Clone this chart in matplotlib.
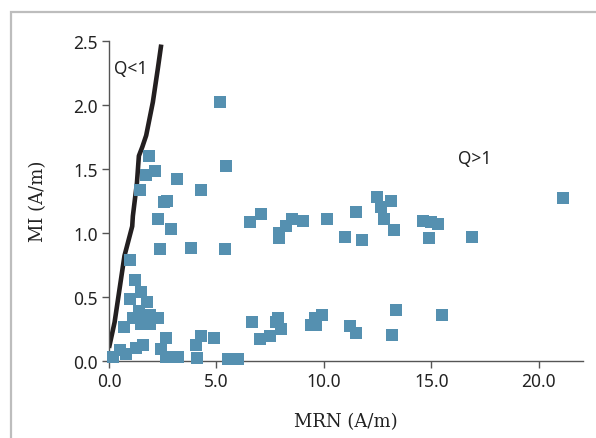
import numpy as np
import matplotlib
matplotlib.use("Agg")
from matplotlib import pyplot as plt
from matplotlib.patches import Rectangle

# puntos medidos (MRN, MI)
mrn = [5.18, 1.84, 5.46, 1.70, 2.12, 3.18, 1.45, 4.29, 2.58, 2.71,
       2.29, 2.90, 2.38, 3.80, 5.38, 0.99, 6.58, 7.09, 7.89, 7.89,
       8.25, 8.49, 9.03, 10.12, 10.97, 11.47, 11.75, 12.49, 12.65, 13.14,
       12.79, 13.24, 14.63, 14.96, 15.29, 14.87, 16.87, 21.11,
       1.22, 1.50, 0.99, 1.78, 1.39, 1.11, 1.92, 2.27, 1.55, 1.89,
       1.50, 0.72, 2.63, 1.27, 1.57, 2.43, 0.52, 0.80, 0.18, 2.66,
       3.20, 4.03, 4.26, 4.88, 4.11, 5.53, 6.00,
       6.67, 7.01, 7.48, 7.75, 7.85, 7.98, 9.42, 9.65, 9.57, 9.93,
       11.20, 11.51, 13.16, 13.33, 15.47]
mi = [2.02, 1.60, 1.52, 1.45, 1.48, 1.42, 1.33, 1.33, 1.24, 1.25,
      1.11, 1.03, 0.87, 0.88, 0.87, 0.79, 1.08, 1.15, 1.00, 0.96,
      1.05, 1.11, 1.09, 1.11, 0.97, 1.16, 0.94, 1.28, 1.20, 1.25,
      1.11, 1.02, 1.09, 1.08, 1.07, 0.96, 0.97, 1.27,
      0.63, 0.54, 0.48, 0.46, 0.39, 0.33, 0.36, 0.33, 0.31, 0.29,
      0.29, 0.26, 0.18, 0.10, 0.12, 0.09, 0.08, 0.05, 0.03, 0.03,
      0.03, 0.12, 0.19, 0.18, 0.02, 0.01, 0.01,
      0.30, 0.17, 0.19, 0.30, 0.33, 0.25, 0.28, 0.28, 0.33, 0.36,
      0.27, 0.22, 0.20, 0.40, 0.36]

# curva Q = 1
curva_x = [0.0, 0.26, 0.72, 1.08, 1.11, 1.30, 1.39, 1.55, 1.73, 2.04, 2.27, 2.43]
curva_y = [0.10, 0.30, 0.82, 1.05, 1.13, 1.39, 1.60, 1.67, 1.76, 2.02, 2.28, 2.47]

xticks = [0, 5, 10, 15, 20]
yticks = [0.0, 0.5, 1.0, 1.5, 2.0, 2.5]

plt.rcParams['font.family'] = 'Noto Sans'

fig = plt.figure(figsize=(5.96, 4.39), dpi=100)
ax = fig.add_axes([109/596, 1-361.7/439, (583-109)/596, 320/439])

# marco gris alrededor
fig.patches.append(Rectangle((11/596, -0.1), 2, 1-13/439+0.1, transform=fig.transFigure,
                             fill=False, edgecolor='#bdbdbd', lw=1.6))

ax.plot(curva_x, curva_y, color='#231f20', lw=3.3, solid_capstyle='butt')
ax.scatter(mrn, mi, marker='s', s=78, color='#5590b0', linewidths=0,
           clip_on=False, zorder=3)

ax.set_xlim(0, 22.05)
ax.set_ylim(0, 2.5)
ax.set_xticks(xticks)
ax.set_xticklabels(['%.1f' % t for t in xticks])
ax.set_yticks(yticks)
ax.set_yticklabels(['%.1f' % t for t in yticks])

for s in ['top', 'right']:
    ax.spines[s].set_visible(False)
for s in ['left', 'bottom']:
    ax.spines[s].set_color('#555555')
    ax.spines[s].set_linewidth(1.0)
ax.tick_params(direction='out', length=5, width=1.0, color='#555555',
               labelsize=12.5, labelcolor='#222222', pad=3)

ax.set_xlabel('MRN (A/m)', family='DejaVu Serif', fontsize=13, color='#222222', labelpad=16)
ax.set_ylabel('MI (A/m)', family='DejaVu Serif', fontsize=13, color='#222222', labelpad=19)

ax.text(1.0, 2.29, 'Q<1', fontsize=12.5, color='#222222', ha='center', va='center')
ax.text(17.0, 1.58, 'Q>1', fontsize=12.5, color='#222222', ha='center', va='center')

plt.savefig('out.png', dpi=100)
